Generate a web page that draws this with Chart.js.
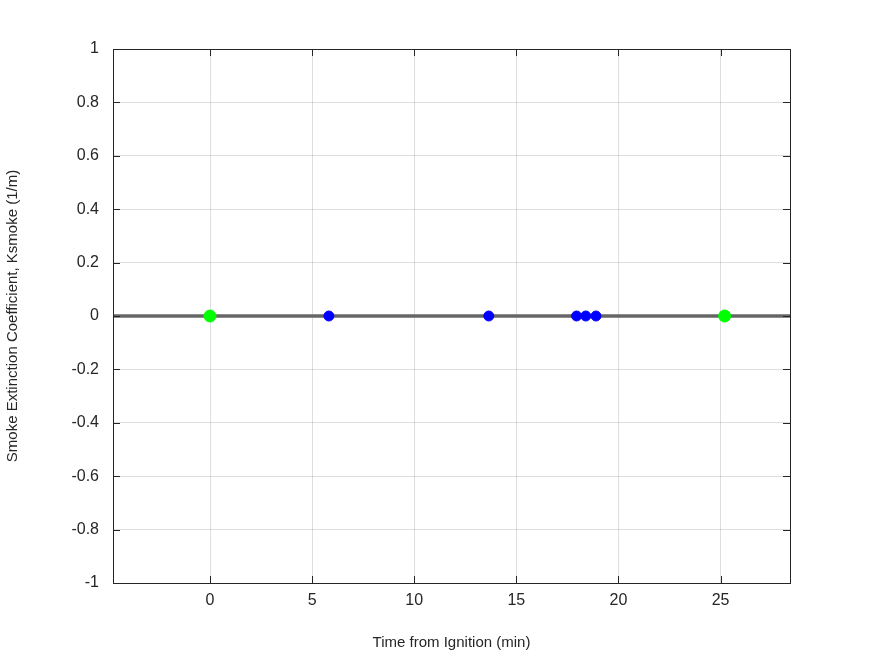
<!DOCTYPE html>
<html><head><meta charset="utf-8">
<script src="https://cdn.jsdelivr.net/npm/chart.js@4"></script>
<style>html,body{margin:0;padding:0;background:#fff}#w{width:875px;height:656px}</style>
</head><body><div id="w"><canvas id="c"></canvas></div>
<script>
const lineX = [-4.75, 28.4];
const lineY = [0, 0];
const blueX = [5.82, 13.65, 17.95, 18.4, 18.9];
const blueY = [0, 0, 0, 0, 0];
const greenX = [0, 25.2];
const greenY = [0, 0];
const xTicks = [0, 5, 10, 15, 20, 25];
const yTicks = [-1, -0.8, -0.6, -0.4, -0.2, 0, 0.2, 0.4, 0.6, 0.8, 1];

const pts = (xs, ys) => xs.map((x, i) => ({x, y: ys[i]}));
const axCol = '#262626';
const boxPlugin = {
  id: 'box',
  afterDraw(ch) {
    const {ctx, chartArea: a, scales: s} = ch;
    ctx.save();
    ctx.strokeStyle = axCol; ctx.lineWidth = 1;
    ctx.strokeRect(a.left + 0.5, a.top + 0.5, a.right - a.left, a.bottom - a.top);
    ctx.beginPath();
    xTicks.forEach(t => { const p = Math.round(s.x.getPixelForValue(t)) + 0.5;
      ctx.moveTo(p, a.bottom); ctx.lineTo(p, a.bottom - 7); ctx.moveTo(p, a.top); ctx.lineTo(p, a.top + 7); });
    yTicks.forEach(t => { const p = Math.round(s.y.getPixelForValue(t)) + 0.5;
      ctx.moveTo(a.left, p); ctx.lineTo(a.left + 7, p); ctx.moveTo(a.right, p); ctx.lineTo(a.right - 7, p); });
    ctx.stroke();
    ctx.restore();
  }
};
new Chart(document.getElementById('c'), {
  type: 'scatter',
  data: { datasets: [
    { data: pts(greenX, greenY), backgroundColor: '#00ff00', borderColor: '#00ff00', pointRadius: 6, order: 0 },
    { data: pts(blueX, blueY), backgroundColor: '#0000ff', borderColor: '#0000ff', pointRadius: 5, order: 1 },
    { type: 'line', data: pts(lineX, lineY), borderColor: '#666666', borderWidth: 3.5, pointRadius: 0, order: 2 }
  ]},
  options: {
    animation: false, responsive: true, maintainAspectRatio: false,
    layout: { padding: { top: 49, right: 85, left: 0, bottom: 0 } },
    plugins: { legend: { display: false }, tooltip: { enabled: false } },
    scales: {
      x: { type: 'linear', min: -4.75, max: 28.4,
        afterBuildTicks: sc => { sc.ticks = xTicks.map(v => ({value: v})); },
        afterFit: sc => { sc.height = 73; },
        grid: { color: 'rgba(0,0,0,0.13)', drawTicks: false },
        border: { display: false },
        ticks: { color: axCol, font: { family: 'Liberation Sans', size: 16 }, padding: 8, maxRotation: 0 },
        title: { display: true, text: 'Time from Ignition (min)', color: axCol, font: { family: 'Liberation Sans', size: 15 }, padding: { top: 2 } } },
      y: { min: -1, max: 1,
        afterBuildTicks: sc => { sc.ticks = yTicks.map(v => ({value: v})); },
        afterFit: sc => { sc.width = 113; },
        grid: { color: 'rgba(0,0,0,0.13)', drawTicks: false },
        border: { display: false },
        ticks: { color: axCol, font: { family: 'Liberation Sans', size: 16 }, padding: 14,
          callback: v => String(Math.round(v * 10) / 10) },
        title: { display: true, text: 'Smoke Extinction Coefficient, Ksmoke (1/m)', color: axCol, font: { family: 'Liberation Sans', size: 15 }, padding: { bottom: 6 } } }
    }
  },
  plugins: [boxPlugin]
});
</script></body></html>
